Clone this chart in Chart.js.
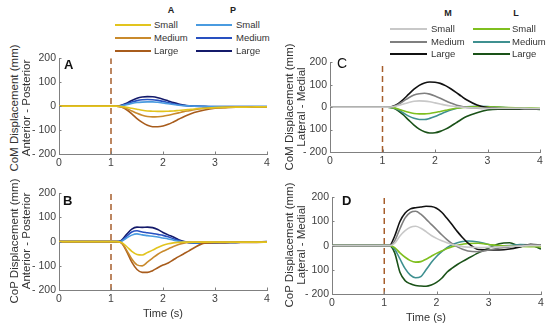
<!DOCTYPE html>
<html><head><meta charset="utf-8">
<script src="https://cdn.jsdelivr.net/npm/chart.js@4"></script>
<style>
body{margin:0;width:550px;height:328px;background:#fff;position:relative;overflow:hidden;font-family:"Liberation Sans",Arial,sans-serif;}
canvas{position:absolute;}
.t{position:absolute;white-space:nowrap;color:#333;line-height:1;}
.ln{position:absolute;height:1.6px;}
</style></head><body>
<canvas id="cA"></canvas><canvas id="cB"></canvas><canvas id="cC"></canvas><canvas id="cD"></canvas>
<script>
// ---------- DATA ----------
const time = [0,0.5,1.0,1.1,1.2,1.3,1.4,1.5,1.6,1.7,1.8,1.9,2.0,2.1,2.2,2.3,2.4,2.5,2.6,2.8,3.0,3.2,3.4,3.6,3.8,4.0];
const onsetTime = 1;
const yTicks = [-200,-100,0,100,200];
const xTicks = [0,1,2,3,4];
const sizes = ['Small','Medium','Large'];

// Panel A: CoM, anterior (A) / posterior (P)
const comA_small  = [0,0,0,0,-2,-5,-9,-13,-17,-20,-21,-22,-22,-21,-20,-18,-16,-14,-12,-9,-6,-5,-4,-4,-3,-3];
const comA_medium = [0,0,0,0,-3,-10,-20,-30,-38,-43,-45,-44,-42,-38,-33,-28,-23,-19,-15,-10,-7,-5,-4,-4,-3,-3];
const comA_large  = [0,0,0,0,-4,-15,-32,-52,-68,-80,-86,-86,-83,-76,-66,-55,-44,-35,-27,-16,-9,-6,-4,-4,-3,-3];
const comP_small  = [0,0,0,0,2,6,11,15,17,18,18,16,13,10,7,4,2,1,0,-1,-2,-2,-2,-2,-2,-2];
const comP_medium = [0,0,0,0,3,9,17,23,27,28,27,24,20,15,10,6,3,1,0,-1,-2,-2,-2,-2,-2,-2];
const comP_large  = [0,0,0,0,4,12,24,33,38,40,39,35,29,22,15,9,5,2,0,-2,-3,-3,-3,-3,-3,-3];

// Panel B: CoP, anterior / posterior
const copA_small  = [0,0,0,0,-3,-20,-40,-53,-55,-45,-35,-24,-15,-9,-5,-3,-2,-2,-2,-2,-2,-2,-2,-2,-2,-2];
const copA_medium = [0,0,0,0,-5,-35,-72,-96,-100,-85,-68,-52,-40,-30,-20,-12,-6,-3,-2,-2,-2,-2,-2,-2,-2,-2];
const copA_large  = [0,0,0,0,-5,-40,-85,-115,-127,-127,-120,-108,-97,-88,-75,-62,-50,-38,-25,-6,-4,-4,-3,-3,-3,-2];
const copP_small  = [0,0,0,0,2,15,27,32,28,25,22,19,15,11,6,2,-1,-3,-4,-4,-4,-3,-3,-2,-2,-2];
const copP_medium = [0,0,0,0,3,22,40,45,40,37,34,30,26,20,12,5,0,-3,-5,-5,-4,-3,-3,-2,-2,-2];
const copP_large  = [0,0,0,0,5,30,52,60,59,60,58,50,38,28,19,8,1,-4,-6,-6,-5,-4,-3,-2,-1,0];

// Panel C: CoM, medial (M) / lateral (L)
const comM_small  = [0,0,0,0,2,7,14,21,26,28,27,24,19,14,9,5,2,0,-2,-4,-5,-5,-5,-5,-6,-6];
const comM_medium = [0,0,0,0,3,12,27,42,54,60,62,58,50,40,29,19,10,4,-1,-5,-6,-6,-6,-6,-7,-7];
const comM_large  = [0,0,0,0,4,16,35,58,80,97,108,112,111,106,96,82,66,49,33,10,-2,-6,-7,-7,-8,-8];
const comL_small  = [0,0,0,0,-2,-8,-16,-23,-28,-30,-30,-28,-24,-19,-14,-9,-5,-2,0,2,2,0,-2,-3,-4,-5];
const comL_medium = [0,0,0,0,-3,-12,-26,-40,-50,-55,-55,-50,-42,-32,-22,-13,-6,-1,2,4,3,0,-3,-5,-6,-7];
const comL_large  = [0,0,0,0,-4,-16,-35,-58,-80,-98,-110,-115,-114,-108,-98,-85,-70,-55,-42,-25,-13,-9,-9,-9,-9,-10];

// Panel D: CoP, medial / lateral
const copM_small  = [0,0,0,0,10,40,62,76,80,72,58,42,30,20,12,5,0,-4,-6,-8,-7,-5,-3,-2,0,0];
const copM_medium = [0,0,0,0,20,70,115,137,142,130,110,88,67,45,25,8,-5,-15,-22,-25,-18,-10,-5,0,3,2];
const copM_large  = [0,0,0,0,40,100,135,152,157,160,163,162,155,138,113,86,58,33,11,-16,-18,-18,-14,-5,6,2];
const copL_small  = [0,0,0,0,-8,-30,-48,-62,-68,-66,-56,-44,-32,-22,-12,-4,2,6,9,10,5,0,-2,-3,-4,-5];
const copL_medium = [0,0,0,0,-15,-55,-95,-122,-133,-128,-100,-70,-45,-25,-8,4,12,17,19,15,5,-2,0,5,3,0];
const copL_large  = [0,0,0,0,-30,-110,-145,-158,-165,-167,-168,-163,-152,-135,-110,-93,-78,-65,-53,-30,-10,8,12,-3,2,-14];

// colours
const colA = ['#e2c41e','#c98a2c','#a85c1c'];
const colP = ['#4a9be0','#2850c0','#141a6a'];
const colM = ['#c8c8c8','#7f7f7f','#111111'];
const colL = ['#7fbf1f','#3f9090','#1a5218'];
const dashColor = '#a65e2c';

// ---------- HELPERS ----------
function pts(arr){ return arr.map((v,i)=>({x:time[i], y:v})); }
function ds(arr,color){
  return {data:pts(arr), borderColor:color, borderWidth:1.6, pointRadius:0, fill:false, cubicInterpolationMode:'monotone'};
}
function onsetDs(){
  return {data:[{x:onsetTime,y:-200},{x:onsetTime,y:200}], borderColor:dashColor, borderWidth:1.5, borderDash:[6,4], pointRadius:0, fill:false, order:10};
}
const inwardTicks = {
  id:'inwardTicks',
  afterDraw(chart){
    const {ctx, chartArea:a, scales:{x,y}} = chart;
    ctx.save(); ctx.strokeStyle='#808080'; ctx.lineWidth=1;
    xTicks.forEach(v=>{const px=Math.round(x.getPixelForValue(v))+0.5; ctx.beginPath(); ctx.moveTo(px,a.bottom); ctx.lineTo(px,a.bottom-2.5); ctx.stroke();});
    yTicks.forEach(v=>{const py=Math.round(y.getPixelForValue(v))+0.5; ctx.beginPath(); ctx.moveTo(a.left,py); ctx.lineTo(a.left+2.5,py); ctx.stroke();});
    ctx.restore();
  }
};
function makePanel(id, area, datasets){
  const padL=34, padT=8, padR=12, padB=22;
  const c = document.getElementById(id);
  const w = area.r-area.l+padL+padR, h = area.b-area.t+padT+padB;
  c.width=w; c.height=h;
  c.style.left=(area.l-padL)+'px'; c.style.top=(area.t-padT)+'px';
  c.style.width=w+'px'; c.style.height=h+'px';
  new Chart(c,{
    type:'line',
    data:{datasets:[onsetDs(), ...datasets]},
    plugins:[inwardTicks],
    options:{
      responsive:false, animation:false, devicePixelRatio:1,
      layout:{padding:{left:0,top:padT,right:padR,bottom:0}},
      plugins:{legend:{display:false}, tooltip:{enabled:false}},
      scales:{
        x:{type:'linear', min:0, max:4,
           afterFit:s=>{s.height=padB;},
           afterBuildTicks:s=>{s.ticks=xTicks.map(v=>({value:v}));},
           grid:{display:true, drawOnChartArea:false, drawTicks:false},
           border:{display:true, color:'#808080', width:1},
           ticks:{padding:3, color:'#404040', font:{family:'Liberation Sans', size:10.5}}},
        y:{type:'linear', min:-200, max:200,
           afterFit:s=>{s.width=padL;},
           afterBuildTicks:s=>{s.ticks=yTicks.map(v=>({value:v}));},
           grid:{display:true, drawOnChartArea:false, drawTicks:false},
           border:{display:true, color:'#808080', width:1},
           ticks:{padding:3, color:'#404040', font:{family:'Liberation Sans', size:10.5},
                  callback:v=> v<0 ? '- '+Math.abs(v) : String(v)}}
      }
    }
  });
}

// ---------- PANELS ----------
makePanel('cA',{l:59,r:267,t:57,b:154},[
  ds(comA_small,colA[0]),ds(comA_medium,colA[1]),ds(comA_large,colA[2]),
  ds(comP_small,colP[0]),ds(comP_medium,colP[1]),ds(comP_large,colP[2])]);
makePanel('cB',{l:59,r:267,t:192,b:290},[
  ds(copA_small,colA[0]),ds(copA_medium,colA[1]),ds(copA_large,colA[2]),
  ds(copP_small,colP[0]),ds(copP_medium,colP[1]),ds(copP_large,colP[2])]);
makePanel('cC',{l:330,r:540,t:61,b:152},[
  ds(comM_small,colM[0]),ds(comM_medium,colM[1]),ds(comM_large,colM[2]),
  ds(comL_small,colL[0]),ds(comL_medium,colL[1]),ds(comL_large,colL[2])]);
makePanel('cD',{l:332,r:541,t:196,b:294},[
  ds(copM_small,colM[0]),ds(copM_medium,colM[1]),ds(copM_large,colM[2]),
  ds(copL_small,colL[0]),ds(copL_medium,colL[1]),ds(copL_large,colL[2])]);

// ---------- TEXT ----------
function text(str,x,y,css,anchor){
  const d=document.createElement('div'); d.className='t'; d.textContent=str;
  d.style.left=x+'px'; d.style.top=y+'px';
  Object.assign(d.style, css||{});
  d.style.transform = anchor || 'translate(-50%,-50%)';
  document.body.appendChild(d); return d;
}
function line(x1,x2,y,color){
  const d=document.createElement('div'); d.className='ln';
  d.style.left=x1+'px'; d.style.width=(x2-x1)+'px'; d.style.top=(y-0.8)+'px'; d.style.background=color;
  document.body.appendChild(d);
}
function legend(h1,h2,hx1,hx2,hy,rows,c1,c2,cols1,cols2){
  const hcss={fontSize:'9px',fontWeight:'bold',color:'#222'};
  text(h1,hx1,hy,hcss); text(h2,hx2,hy,hcss);
  sizes.forEach((s,i)=>{
    const y=rows[i];
    line(c1[0],c1[1],y,cols1[i]); text(s,c1[2],y,{fontSize:'9.5px'},'translate(0,-50%)');
    line(c2[0],c2[1],y,cols2[i]); text(s,c2[2],y,{fontSize:'9.5px'},'translate(0,-50%)');
  });
}
legend('A','P',171,233,10,[25,38,51],[115,151,154],[196,232,236],colA,colP);
legend('M','L',448,516,13,[29,42,54],[390,427,431],[473,510,512],colM,colL);

const rot='translate(-50%,-50%) rotate(-90deg)';
const tcss={fontSize:'11.5px'};
text('CoM Displacement (mm)',15,108,tcss,rot);
text('Anterior - Posterior',27,108,tcss,rot);
text('CoP Displacement (mm)',15,241,tcss,rot);
text('Anterior - Posterior',27,241,tcss,rot);
text('CoM Displacement (mm)',290,107,tcss,rot);
text('Lateral - Medial',302,107,tcss,rot);
text('CoP Displacement (mm)',290,245,tcss,rot);
text('Lateral - Medial',302,245,tcss,rot);
text('Time (s)',163,313,{fontSize:'11px'});
text('Time (s)',426,317,{fontSize:'11px'});

const lcss={fontSize:'13px',fontWeight:'bold',color:'#111'};
text('A',64,63.5,lcss,'translate(0,-50%)');
text('B',63,199.5,lcss,'translate(0,-50%)');
text('C',337,63,{fontSize:'14px',color:'#111'},'translate(0,-50%)');
text('D',342,200,lcss,'translate(0,-50%)');
</script>
</body></html>
